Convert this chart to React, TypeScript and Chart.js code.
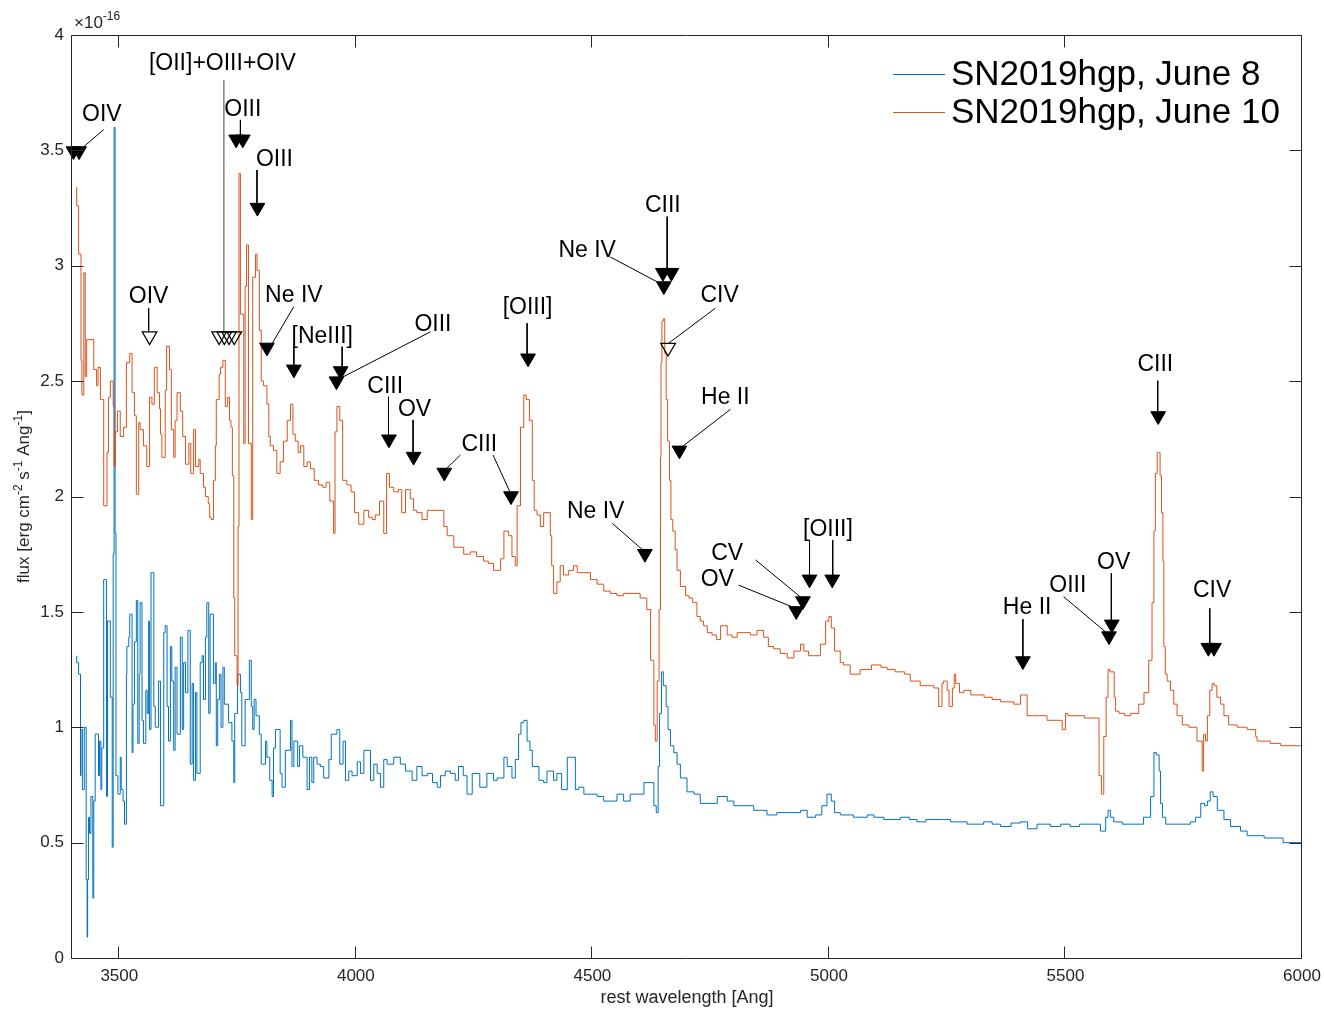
import { useEffect, useRef } from "react";
import { Chart, registerables } from "chart.js";

Chart.register(...registerables);

const FONT = "'Liberation Sans', Arial, Helvetica, sans-serif";

// ---------- data ----------
const SERIES_NAMES = ["SN2019hgp, June 8", "SN2019hgp, June 10"];
const SERIES_COLORS = ["#0072BD", "#D95319"];

const WL_JUNE8 = [
  3410, 3414, 3418, 3419, 3422, 3426, 3430, 3432, 3433, 3435, 3437, 3440, 3444, 3446, 3449, 3456, 3458, 3461, 3463, 3467,
  3473, 3475, 3481, 3485, 3487, 3489, 3491, 3493, 3497, 3502, 3504, 3508, 3511, 3515, 3516, 3520, 3522, 3527, 3529, 3532,
  3536, 3539, 3542, 3544, 3548, 3551, 3556, 3559, 3562, 3564, 3567, 3573, 3576, 3583, 3587, 3594, 3597, 3601, 3604, 3608,
  3611, 3615, 3618, 3622, 3629, 3633, 3636, 3640, 3645, 3650, 3654, 3657, 3661, 3664, 3671, 3675, 3678, 3682, 3685, 3689,
  3692, 3699, 3703, 3705, 3708, 3712, 3715, 3719, 3722, 3731, 3738, 3742, 3744, 3750, 3756, 3759, 3766, 3775, 3779, 3782,
  3785, 3789, 3796, 3800, 3809, 3812, 3818, 3823, 3826, 3830, 3840, 3844, 3851, 3862, 3865, 3869, 3877, 3881, 3888, 3897,
  3902, 3907, 3911, 3918, 3925, 3932, 3943, 3948, 3960, 3966, 3973, 3978, 3985, 3992, 4003, 4010, 4017, 4031, 4038, 4045,
  4052, 4059, 4066, 4080, 4094, 4105, 4119, 4129, 4140, 4151, 4162, 4172, 4179, 4189, 4200, 4210, 4217, 4227, 4235, 4246,
  4262, 4277, 4291, 4299, 4313, 4320, 4330, 4337, 4344, 4349, 4355, 4362, 4368, 4373, 4387, 4397, 4404, 4418, 4425, 4435,
  4447, 4464, 4471, 4482, 4496, 4510, 4524, 4538, 4552, 4566, 4580, 4595, 4609, 4621, 4630, 4635, 4639, 4642, 4646, 4650,
  4656, 4660, 4665, 4672, 4679, 4686, 4700, 4715, 4728, 4743, 4764, 4785, 4799, 4820, 4841, 4869, 4890, 4912, 4940, 4954,
  4972, 4985, 4996, 5005, 5012, 5024, 5052, 5081, 5095, 5116, 5135, 5151, 5170, 5186, 5205, 5222, 5240, 5257, 5275, 5292,
  5310, 5327, 5345, 5363, 5385, 5405, 5420, 5440, 5468, 5490, 5510, 5530, 5553, 5574, 5585, 5590, 5595, 5602, 5620, 5638,
  5665, 5680, 5687, 5692, 5698, 5701, 5705, 5712, 5736, 5764, 5775, 5786, 5794, 5800, 5806, 5812, 5821, 5835, 5849, 5870,
  5884, 5920, 5960, 6000,
];
const FLUX_JUNE8 = [
  1.31, 1.28, 1.23, 0.79, 0.99, 0.73, 1.0, 0.34, 0.09, 0.34, 0.61, 0.54, 0.7, 0.26, 0.68, 0.97, 0.79, 0.94, 0.73, 0.91,
  1.64, 0.7, 1.46, 1.13, 0.48, 1.75, 3.6, 1.84, 0.79, 0.71, 0.87, 0.73, 0.68, 0.58, 1.23, 1.35, 1.39, 1.49, 0.89, 1.1,
  1.37, 1.55, 0.93, 1.23, 1.54, 1.03, 0.93, 1.16, 1.06, 1.46, 0.99, 1.67, 1.09, 1.0, 1.2, 0.66, 1.41, 1.44, 1.09, 0.94,
  1.35, 1.2, 0.9, 1.26, 0.97, 1.39, 0.99, 1.28, 1.15, 1.42, 0.84, 1.19, 0.77, 1.15, 0.8, 1.28, 1.31, 1.12, 1.39, 1.54,
  1.06, 1.49, 1.19, 1.28, 0.92, 1.12, 1.23, 1.0, 1.26, 1.1, 1.02, 0.94, 0.76, 1.06, 1.23, 1.15, 0.92, 1.12, 1.29, 1.09,
  0.99, 1.12, 1.05, 0.97, 0.84, 0.94, 0.87, 0.77, 0.7, 0.91, 0.99, 0.8, 0.74, 0.9, 1.03, 0.83, 0.94, 0.83, 0.92, 0.87,
  0.73, 0.87, 0.76, 0.87, 0.84, 0.83, 0.78, 0.86, 0.97, 0.99, 0.84, 0.94, 0.77, 0.81, 0.79, 0.85, 0.8, 0.9, 0.77, 0.84,
  0.8, 0.74, 0.86, 0.84, 0.87, 0.84, 0.81, 0.77, 0.83, 0.79, 0.8, 0.76, 0.74, 0.79, 0.81, 0.8, 0.77, 0.83, 0.79, 0.71,
  0.8, 0.74, 0.8, 0.77, 0.78, 0.87, 0.83, 0.78, 0.86, 0.97, 1.02, 1.03, 0.94, 0.9, 0.83, 0.77, 0.76, 0.81, 0.77, 0.8,
  0.73, 0.87, 0.73, 0.74, 0.71, 0.71, 0.7, 0.68, 0.68, 0.71, 0.68, 0.71, 0.71, 0.76, 0.76, 0.66, 0.63, 0.83, 1.06, 1.24,
  1.18, 1.09, 0.99, 0.92, 0.89, 0.84, 0.78, 0.72, 0.71, 0.67, 0.67, 0.7, 0.68, 0.66, 0.66, 0.64, 0.62, 0.63, 0.63, 0.64,
  0.61, 0.62, 0.66, 0.71, 0.68, 0.63, 0.62, 0.61, 0.62, 0.61, 0.6, 0.6, 0.61, 0.6, 0.59, 0.6, 0.6, 0.6, 0.59, 0.59,
  0.58, 0.58, 0.59, 0.58, 0.57, 0.585, 0.59, 0.56, 0.58, 0.57, 0.58, 0.57, 0.58, 0.58, 0.55, 0.61, 0.64, 0.61, 0.59, 0.58,
  0.58, 0.61, 0.7, 0.89, 0.88, 0.81, 0.67, 0.61, 0.58, 0.58, 0.59, 0.61, 0.67, 0.66, 0.68, 0.72, 0.7, 0.64, 0.6, 0.57,
  0.55, 0.53, 0.52, 0.5,
];

const WL_JUNE10 = [
  3410, 3414, 3419, 3421, 3425, 3428, 3431, 3446, 3452, 3455, 3460, 3467, 3474, 3477, 3481, 3487, 3489, 3492, 3496, 3502,
  3509, 3515, 3522, 3527, 3532, 3536, 3541, 3544, 3551, 3558, 3564, 3569, 3574, 3580, 3585, 3587, 3590, 3597, 3600, 3606,
  3610, 3615, 3618, 3622, 3629, 3634, 3640, 3647, 3651, 3657, 3661, 3668, 3671, 3678, 3682, 3688, 3691, 3694, 3699, 3703,
  3705, 3711, 3714, 3719, 3724, 3729, 3733, 3736, 3739, 3742, 3744, 3749, 3751, 3753, 3756, 3763, 3766, 3769, 3773, 3779,
  3782, 3788, 3791, 3796, 3800, 3805, 3812, 3816, 3819, 3826, 3833, 3840, 3847, 3855, 3862, 3867, 3872, 3878, 3883, 3890,
  3897, 3904, 3912, 3921, 3930, 3937, 3945, 3953, 3956, 3960, 3966, 3972, 3981, 3990, 3997, 4006, 4017, 4027, 4035, 4041,
  4050, 4059, 4065, 4071, 4080, 4090, 4097, 4105, 4115, 4122, 4129, 4140, 4151, 4160, 4168, 4180, 4186, 4193, 4207, 4217,
  4228, 4242, 4255, 4270, 4280, 4291, 4306, 4313, 4323, 4330, 4337, 4341, 4348, 4355, 4360, 4367, 4373, 4377, 4383, 4390,
  4397, 4411, 4414, 4418, 4425, 4432, 4439, 4450, 4460, 4468, 4482, 4496, 4510, 4524, 4538, 4552, 4566, 4580, 4601, 4615,
  4623, 4630, 4633, 4637, 4641, 4644, 4645, 4647, 4650, 4653, 4656, 4659, 4663, 4666, 4670, 4675, 4679, 4686, 4697, 4704,
  4712, 4721, 4728, 4735, 4743, 4753, 4762, 4771, 4785, 4795, 4806, 4820, 4834, 4848, 4862, 4872, 4883, 4897, 4912, 4926,
  4940, 4947, 4957, 4968, 4982, 4993, 5000, 5005, 5012, 5024, 5031, 5045, 5066, 5090, 5110, 5123, 5140, 5160, 5172, 5193,
  5222, 5232, 5239, 5242, 5250, 5254, 5261, 5265, 5268, 5276, 5285, 5300, 5328, 5345, 5363, 5391, 5405, 5419, 5430, 5461,
  5493, 5500, 5505, 5540, 5571, 5576, 5581, 5586, 5590, 5594, 5603, 5606, 5613, 5625, 5638, 5655, 5666, 5676, 5683, 5687,
  5690, 5694, 5696, 5700, 5703, 5706, 5708, 5711, 5715, 5722, 5729, 5736, 5747, 5761, 5778, 5789, 5792, 5796, 5800, 5805,
  5810, 5814, 5820, 5828, 5835, 5845, 5863, 5884, 5902, 5905, 5933, 5955, 5976, 6000,
];
const FLUX_JUNE10 = [
  3.34, 3.26, 3.05, 2.59, 2.44, 2.97, 2.52, 2.68, 2.55, 2.48, 2.56, 2.42, 1.96, 2.19, 2.43, 2.5, 2.39, 2.13, 2.28, 2.37,
  2.26, 2.3, 2.58, 2.62, 2.45, 2.35, 2.01, 2.32, 2.29, 2.22, 2.13, 2.43, 2.4, 2.56, 2.45, 2.38, 2.27, 2.17, 2.46, 2.65,
  2.55, 2.29, 2.17, 2.33, 2.45, 2.37, 2.26, 2.14, 2.23, 2.1, 2.29, 2.13, 2.16, 2.1, 2.04, 2.0, 1.97, 1.91, 1.9, 2.07,
  2.22, 2.42, 2.53, 2.56, 2.59, 2.39, 2.43, 2.33, 2.3, 2.09, 1.56, 1.31, 1.18, 1.87, 3.4, 2.79, 2.23, 2.91, 3.09, 2.23,
  1.9, 2.95, 3.05, 2.98, 2.72, 2.5, 2.48, 2.4, 2.26, 2.22, 2.2, 2.1, 2.15, 2.24, 2.33, 2.4, 2.27, 2.24, 2.19, 2.22,
  2.13, 2.15, 2.12, 2.07, 2.05, 2.04, 2.06, 1.98, 1.84, 2.28, 2.39, 2.33, 2.07, 2.05, 2.02, 1.93, 1.88, 1.94, 1.91, 1.9,
  1.92, 1.98, 1.84, 2.1, 2.04, 2.02, 2.03, 1.93, 2.03, 1.99, 1.94, 1.93, 1.9, 1.94, 1.94, 1.94, 1.94, 1.87, 1.83, 1.78,
  1.78, 1.75, 1.76, 1.74, 1.72, 1.71, 1.68, 1.73, 1.85, 1.83, 1.74, 1.7, 1.96, 2.3, 2.44, 2.42, 2.33, 2.07, 1.94, 1.92,
  1.87, 1.93, 1.83, 1.7, 1.58, 1.63, 1.7, 1.66, 1.68, 1.7, 1.67, 1.67, 1.64, 1.62, 1.59, 1.58, 1.57, 1.58, 1.58, 1.56,
  1.51, 1.29, 1.01, 0.94, 1.2, 1.51, 2.17, 2.58, 2.76, 2.77, 2.62, 2.42, 2.24, 2.07, 1.9, 1.85, 1.77, 1.68, 1.61, 1.57,
  1.56, 1.54, 1.48, 1.46, 1.44, 1.41, 1.4, 1.38, 1.44, 1.4, 1.39, 1.41, 1.41, 1.4, 1.42, 1.39, 1.35, 1.34, 1.32, 1.3,
  1.33, 1.36, 1.33, 1.31, 1.31, 1.36, 1.46, 1.48, 1.43, 1.33, 1.28, 1.27, 1.23, 1.25, 1.27, 1.26, 1.25, 1.24, 1.23, 1.2,
  1.18, 1.17, 1.09, 1.19, 1.2, 1.16, 1.09, 1.17, 1.23, 1.19, 1.15, 1.16, 1.14, 1.13, 1.12, 1.11, 1.1, 1.14, 1.05, 1.05,
  1.03, 0.99, 1.06, 1.05, 1.04, 0.79, 0.71, 0.96, 1.13, 1.25, 1.24, 1.13, 1.07, 1.06, 1.05, 1.06, 1.1, 1.15, 1.29, 1.54,
  1.85, 2.1, 2.19, 2.19, 2.09, 1.93, 1.72, 1.35, 1.23, 1.2, 1.16, 1.1, 1.05, 1.01, 1.0, 0.94, 0.81, 0.97, 0.94, 1.05,
  1.16, 1.19, 1.18, 1.13, 1.1, 1.05, 1.01, 1.0, 0.99, 0.96, 0.94, 0.93, 0.92, 0.92,
];

const X_TICKS = [3500, 4000, 4500, 5000, 5500, 6000];
const Y_TICKS = [0, 0.5, 1, 1.5, 2, 2.5, 3, 3.5, 4];
const X_MIN = 3400;
const X_MAX = 6000;
const Y_MIN = 0;
const Y_MAX = 4;

// line identifications
const LABEL_TEXT = [
  "OIV", "[OII]+OIII+OIV", "OIII", "OIII", "OIV", "Ne IV", "[NeIII]", "OIII", "CIII", "OV", "CIII", "[OIII]", "Ne IV",
  "Ne IV", "CIII", "CIV", "He II", "CV", "OV", "[OIII]", "He II", "OIII", "OV", "CIII", "CIV",
];
const LABEL_WL = [
  3463, 3718, 3761, 3828, 3562, 3869, 3929, 4163, 4062, 4124, 4261, 4363, 4507, 4489, 4649, 4769, 4781, 4785, 4764, 4998,
  5419, 5505, 5602, 5690, 5810,
];
const LABEL_FLUX = [
  3.661, 3.883, 3.686, 3.469, 2.873, 2.878, 2.7, 2.754, 2.483, 2.386, 2.234, 2.826, 1.941, 3.073, 3.268, 2.878, 2.436,
  1.761, 1.646, 1.863, 1.525, 1.621, 1.72, 2.581, 1.599,
];

const ARROW_WL_FROM = [
  3467, 3562, 3756, 3791, 3869, 3869, 3971, 4158, 4069, 4121, 4221, 4290, 4362, 4542, 4538, 4658, 4760, 4792, 4845, 4809,
  4959, 5008, 5410, 5496, 5597, 5695, 5805,
];
const ARROW_FLUX_FROM = [
  3.59, 2.817, 3.632, 3.415, 2.823, 2.649, 2.649, 2.714, 2.432, 2.332, 2.18, 2.18, 2.751, 1.884, 3.038, 3.213, 2.816,
  2.378, 1.725, 1.616, 1.811, 1.811, 1.468, 1.566, 1.667, 2.502, 1.515,
];
const ARROW_WL_TO = [
  3418, 3562, 3756, 3791, 3819, 3869, 3971, 3967, 4069, 4121, 4189, 4327, 4362, 4605, 4637, 4658, 4661, 4690, 4943, 4929,
  4959, 5008, 5410, 5590, 5597, 5695, 5805,
];
const ARROW_FLUX_TO = [
  3.504, 2.713, 3.567, 3.271, 2.649, 2.563, 2.563, 2.512, 2.267, 2.192, 2.115, 2.014, 2.617, 1.771, 2.93, 2.989, 2.664,
  2.216, 1.559, 1.516, 1.66, 1.66, 1.306, 1.404, 1.465, 2.368, 1.364,
];

const OII_LINE_WL = [3721, 3721];
const OII_LINE_FLUX = [3.805, 2.712];

const FILLED_WL = [
  3403, 3415, 3747, 3761, 3792, 3812, 3869, 3968, 3959, 4070, 4122, 4187, 4328, 4364, 4611, 4651, 4649, 4667, 4684, 4945,
  4931, 4959, 5007, 5410, 5592, 5598, 5696, 5802, 5814,
];
const FILLED_FLUX = [
  3.497, 3.497, 3.548, 3.548, 3.252, 2.646, 2.551, 2.544, 2.5, 2.248, 2.173, 2.104, 2.002, 2.599, 1.752, 2.912, 2.97,
  2.97, 2.2, 1.547, 1.504, 1.641, 1.641, 1.287, 1.395, 1.446, 2.349, 1.345, 1.345,
];
const OPEN_WL = [3564, 3711, 3722, 3732, 3743, 4660];
const OPEN_FLUX = [2.695, 2.695, 2.695, 2.695, 2.695, 2.645];

// ---------- helpers ----------
const pairs = (xs: number[], ys: number[]) => xs.map((x, i) => ({ x, y: ys[i] }));
const segments = (x0: number[], y0: number[], x1: number[], y1: number[]) => {
  const out: { x: number; y: number | null }[] = [];
  x0.forEach((_, i) => {
    out.push({ x: x0[i], y: y0[i] }, { x: x1[i], y: y1[i] }, { x: x1[i], y: null });
  });
  return out;
};

const AXIS_COLOR = "#262626";

const decorPlugin = {
  id: "decor",
  afterDraw(chart: any) {
    const { ctx, chartArea: a, scales } = chart;
    const xs = scales.x;
    const ys = scales.y;
    ctx.save();
    // box + inward ticks
    ctx.strokeStyle = AXIS_COLOR;
    ctx.lineWidth = 1;
    const L = Math.round(a.left) - 0.5;
    const R = Math.round(a.right) - 0.5;
    const T = Math.round(a.top) + 0.5;
    const B = Math.round(a.bottom) + 0.5;
    ctx.beginPath();
    ctx.rect(L, T, R - L, B - T);
    const tl = 12;
    X_TICKS.forEach((v) => {
      const px = Math.round(xs.getPixelForValue(v)) - 0.5;
      ctx.moveTo(px, B);
      ctx.lineTo(px, B - tl);
      ctx.moveTo(px, T);
      ctx.lineTo(px, T + tl);
    });
    Y_TICKS.forEach((v) => {
      const py = Math.round(ys.getPixelForValue(v)) + 0.5;
      ctx.moveTo(L, py);
      ctx.lineTo(L + tl, py);
      ctx.moveTo(R, py);
      ctx.lineTo(R - tl, py);
    });
    ctx.stroke();

    // line identification labels
    ctx.fillStyle = "#000";
    ctx.textAlign = "center";
    ctx.textBaseline = "alphabetic";
    const fs = 23;
    ctx.font = `${fs}px ${FONT}`;
    LABEL_TEXT.forEach((t, i) => {
      const px = xs.getPixelForValue(LABEL_WL[i]);
      const py = ys.getPixelForValue(LABEL_FLUX[i]);
      ctx.fillText(t, px, py + 0.358 * fs);
    });

    // x title
    ctx.fillStyle = AXIS_COLOR;
    ctx.font = `18px ${FONT}`;
    ctx.textAlign = "center";
    ctx.fillText("rest wavelength [Ang]", (a.left + a.right) / 2, 1003);

    // y title with superscripts (rotated)
    const parts: [string, boolean][] = [
      ["flux [erg cm", false],
      ["-2", true],
      [" s", false],
      ["-1", true],
      [" Ang", false],
      ["-1", true],
      ["]", false],
    ];
    const mainF = `17px ${FONT}`;
    const supF = `12px ${FONT}`;
    let total = 0;
    parts.forEach(([s, sup]) => {
      ctx.font = sup ? supF : mainF;
      total += ctx.measureText(s).width;
    });
    ctx.save();
    ctx.translate(29, (a.top + a.bottom) / 2);
    ctx.rotate(-Math.PI / 2);
    ctx.textAlign = "left";
    let cx = -total / 2;
    parts.forEach(([s, sup]) => {
      ctx.font = sup ? supF : mainF;
      ctx.fillText(s, cx, sup ? -7 : 0);
      cx += ctx.measureText(s).width;
    });
    ctx.restore();

    // exponent
    ctx.textAlign = "left";
    ctx.font = `17px ${FONT}`;
    ctx.fillText("\u00d710", 74, 28);
    const w10 = ctx.measureText("\u00d710").width;
    ctx.font = `12px ${FONT}`;
    ctx.fillText("-16", 74 + w10, 20);

    // legend
    const legY = [74, 112];
    const legTextY = [85, 123];
    ctx.font = `35px ${FONT}`;
    SERIES_NAMES.forEach((name, i) => {
      ctx.strokeStyle = SERIES_COLORS[i];
      ctx.lineWidth = 1;
      ctx.beginPath();
      ctx.moveTo(893, legY[i] + 0.5);
      ctx.lineTo(945, legY[i] + 0.5);
      ctx.stroke();
      ctx.fillStyle = "#000";
      ctx.fillText(name, 951, legTextY[i]);
    });
    ctx.restore();
  },
};

export default function App() {
  const ref = useRef<HTMLCanvasElement | null>(null);
  useEffect(() => {
    if (!ref.current) return;
    const chart = new Chart(ref.current, {
      type: "line",
      data: {
        datasets: [
          {
            label: "filled markers",
            data: pairs(FILLED_WL, FILLED_FLUX),
            showLine: false,
            pointStyle: "triangle",
            rotation: 180,
            pointRadius: 8.5,
            pointBackgroundColor: "#000",
            pointBorderColor: "#000",
            pointBorderWidth: 1,
            clip: false as any,
            order: 0,
          } as any,
          {
            label: "open markers",
            data: pairs(OPEN_WL, OPEN_FLUX),
            showLine: false,
            pointStyle: "triangle",
            rotation: 180,
            pointRadius: 8.5,
            pointBackgroundColor: "rgba(0,0,0,0)",
            pointBorderColor: "#000",
            pointBorderWidth: 1.2,
            clip: false as any,
            order: 0,
          } as any,
          {
            label: "arrows",
            data: segments(ARROW_WL_FROM, ARROW_FLUX_FROM, ARROW_WL_TO, ARROW_FLUX_TO),
            borderColor: "#000",
            borderWidth: 1,
            pointRadius: 0,
            spanGaps: false,
            clip: false as any,
            order: 1,
          } as any,
          {
            label: "oii line",
            data: pairs(OII_LINE_WL, OII_LINE_FLUX),
            borderColor: "#6e6e6e",
            borderWidth: 1.3,
            pointRadius: 0,
            order: 1,
          } as any,
          {
            label: SERIES_NAMES[1],
            data: pairs(WL_JUNE10, FLUX_JUNE10),
            borderColor: SERIES_COLORS[1],
            borderWidth: 1,
            pointRadius: 0,
            stepped: "after",
            order: 2,
          } as any,
          {
            label: SERIES_NAMES[0],
            data: pairs(WL_JUNE8, FLUX_JUNE8),
            borderColor: SERIES_COLORS[0],
            borderWidth: 1,
            pointRadius: 0,
            stepped: "after",
            order: 3,
          } as any,
        ],
      },
      options: {
        animation: false,
        responsive: false,
        maintainAspectRatio: false,
        events: [],
        layout: { padding: { left: 0, right: 22, top: 35, bottom: 0 } },
        plugins: { legend: { display: false }, tooltip: { enabled: false }, title: { display: false } },
        scales: {
          x: {
            type: "linear",
            min: X_MIN,
            max: X_MAX,
            grid: { display: false, drawTicks: false },
            border: { display: false },
            afterBuildTicks: (axis: any) => {
              axis.ticks = X_TICKS.map((v) => ({ value: v }));
            },
            afterFit: (axis: any) => {
              axis.height = 51;
              axis.paddingLeft = 0;
              axis.paddingRight = 0;
            },
            ticks: {
              autoSkip: false,
              maxRotation: 0,
              padding: 8,
              color: AXIS_COLOR,
              font: { family: FONT, size: 17 },
              callback: (v: any) => String(v),
            },
          },
          y: {
            type: "linear",
            min: Y_MIN,
            max: Y_MAX,
            grid: { display: false, drawTicks: false },
            border: { display: false },
            afterBuildTicks: (axis: any) => {
              axis.ticks = Y_TICKS.map((v) => ({ value: v }));
            },
            afterFit: (axis: any) => {
              axis.width = 72;
              axis.paddingTop = 0;
              axis.paddingBottom = 0;
            },
            ticks: {
              autoSkip: false,
              padding: 8,
              color: AXIS_COLOR,
              font: { family: FONT, size: 17 },
              callback: (v: any) => String(v),
            },
          },
        },
      },
      plugins: [decorPlugin],
    } as any);
    return () => chart.destroy();
  }, []);

  return (
    <div style={{ position: "fixed", left: 0, top: 0, width: 1324, height: 1009, background: "#fff" }}>
      <canvas ref={ref} width={1324} height={1009} style={{ display: "block", width: 1324, height: 1009 }} />
    </div>
  );
}
